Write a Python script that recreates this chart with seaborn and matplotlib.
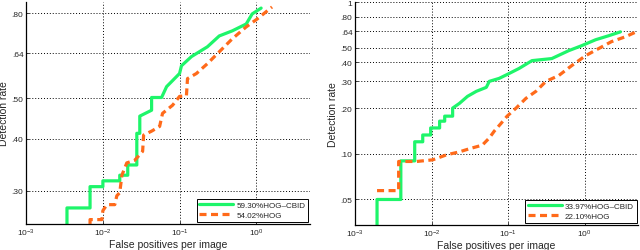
import numpy as np
import pandas as pd
import matplotlib
matplotlib.use("Agg")
import matplotlib.pyplot as plt
import seaborn as sns

# left panel
left_cbid_fppi = [0.0034, 0.0034, 0.0068, 0.0068, 0.0100, 0.0100, 0.0166, 0.0166, 0.0211, 0.0211,
                  0.0277, 0.0277, 0.0303, 0.0303, 0.0432, 0.0432, 0.0583, 0.0678, 0.0811, 0.100,
                  0.106, 0.143, 0.231, 0.330, 0.488, 0.741, 0.887, 1.16]
left_cbid_rate = [0.25, 0.273, 0.273, 0.307, 0.307, 0.317, 0.317, 0.327, 0.327, 0.346,
                  0.346, 0.412, 0.412, 0.453, 0.468, 0.502, 0.502, 0.533, 0.551, 0.573,
                  0.598, 0.629, 0.664, 0.705, 0.725, 0.753, 0.796, 0.822]
left_hog_fppi = [0.0068, 0.0068, 0.0097, 0.0100, 0.0113, 0.0143, 0.0152, 0.0166, 0.0177, 0.0205,
                 0.026, 0.033, 0.034, 0.0432, 0.055, 0.060, 0.0811, 0.100, 0.123, 0.127,
                 0.166, 0.231, 0.330, 0.488, 0.741, 1.03, 1.61]
left_hog_rate = [0.25, 0.256, 0.256, 0.269, 0.278, 0.278, 0.292, 0.297, 0.327, 0.350,
                 0.355, 0.373, 0.408, 0.417, 0.428, 0.460, 0.481, 0.505, 0.507, 0.557,
                 0.573, 0.605, 0.646, 0.694, 0.741, 0.774, 0.827]

# right panel
right_cbid_fppi = [0.00193, 0.00193, 0.00395, 0.00395, 0.0060, 0.0060, 0.00764, 0.00764, 0.0097, 0.0097,
                   0.0127, 0.0127, 0.0148, 0.0148, 0.0188, 0.0188, 0.0231, 0.0294, 0.0384, 0.0518,
                   0.0566, 0.0764, 0.097, 0.139, 0.205, 0.372, 0.619, 0.91, 1.39, 2.05, 2.94]
right_cbid_rate = [0.034, 0.050, 0.050, 0.0898, 0.0898, 0.120, 0.120, 0.133, 0.133, 0.148,
                   0.148, 0.164, 0.164, 0.177, 0.177, 0.200, 0.215, 0.239, 0.258, 0.274,
                   0.300, 0.314, 0.333, 0.365, 0.411, 0.424, 0.478, 0.515, 0.564, 0.599, 0.636]
right_hog_fppi = [0.00193, 0.0037, 0.0037, 0.00638, 0.0103, 0.0156, 0.0231, 0.0312, 0.0459, 0.0566,
                  0.0658, 0.0811, 0.097, 0.127, 0.171, 0.231, 0.312, 0.460, 0.678, 1.03,
                  1.52, 2.24, 3.41, 4.73]
right_hog_rate = [0.0572, 0.0572, 0.089, 0.089, 0.0912, 0.0984, 0.103, 0.108, 0.114, 0.127,
                  0.141, 0.159, 0.177, 0.200, 0.232, 0.258, 0.300, 0.328, 0.381, 0.443,
                  0.493, 0.548, 0.590, 0.636]

left_labels = ["59.30%HOG\u2013CBID", "54.02%HOG"]
right_labels = ["33.97%HOG\u2013CBID", "22.10%HOG"]

left_yticks = [0.30, 0.40, 0.50, 0.64, 0.80]
left_yticklabels = [".30", ".40", ".50", ".64", ".80"]
right_yticks = [0.05, 0.10, 0.20, 0.30, 0.40, 0.50, 0.64, 0.80, 1.0]
right_yticklabels = [".05", ".10", ".20", ".30", ".40", ".50", ".64", ".80", "1"]

green = "#1ef56a"
orange = "#ff6a1a"

sns.set_style("ticks")
plt.rcParams['font.family'] = ['Liberation Sans', 'DejaVu Sans']
plt.rcParams['mathtext.fontset'] = 'custom'
plt.rcParams['mathtext.rm'] = 'Liberation Sans'

fig = plt.figure(figsize=(6.4, 2.51), dpi=100)
ax1 = fig.add_axes([0.041, 0.104, 0.443, 0.884])
ax2 = fig.add_axes([0.555, 0.100, 0.442, 0.888])


def panel(ax, cx, cy, hx, hy, labels, yt, ytl, ylim):
    d1 = pd.DataFrame({"fppi": cx, "rate": cy})
    d2 = pd.DataFrame({"fppi": hx, "rate": hy})
    sns.lineplot(data=d1, x="fppi", y="rate", ax=ax, sort=False, estimator=None,
                 color=green, lw=2.3, label=labels[0])
    sns.lineplot(data=d2, x="fppi", y="rate", ax=ax, sort=False, estimator=None,
                 color=orange, lw=2.3, label=labels[1])
    ax.lines[1].set_linestyle((0, (2.2, 1.4)))
    ax.set_xscale("log")
    ax.set_yscale("log")
    ax.set_xlim(1e-3, 5)
    ax.set_ylim(*ylim)
    ax.set_xticks([1e-3, 1e-2, 1e-1, 1e0])
    ax.xaxis.set_minor_locator(matplotlib.ticker.NullLocator())
    ax.yaxis.set_minor_locator(matplotlib.ticker.NullLocator())
    ax.set_yticks(yt)
    ax.set_yticklabels(ytl)
    ax.grid(True, which="major", color="black", linestyle=(0, (1, 2)), linewidth=0.7)
    ax.tick_params(direction="in", length=2, labelsize=6, pad=2, width=0.6)
    for s in ["top", "right"]:
        ax.spines[s].set_visible(False)
    for s in ["left", "bottom"]:
        ax.spines[s].set_linewidth(0.9)
        ax.spines[s].set_color("black")
    ax.set_xlabel("False positives per image", fontsize=7.5, labelpad=1)
    ax.set_ylabel("Detection rate", fontsize=7.5, labelpad=2)
    leg = ax.legend(loc="lower right", bbox_to_anchor=(0.995, 0.01), fontsize=5.8,
                    frameon=True, fancybox=False, handlelength=4.2, borderpad=0.35,
                    labelspacing=0.25, handletextpad=0.4, borderaxespad=0)
    leg.get_frame().set_edgecolor("black")
    leg.get_frame().set_linewidth(0.7)
    leg.get_frame().set_alpha(1)


panel(ax1, left_cbid_fppi, left_cbid_rate, left_hog_fppi, left_hog_rate,
      left_labels, left_yticks, left_yticklabels, (0.25, 0.85))
panel(ax2, right_cbid_fppi, right_cbid_rate, right_hog_fppi, right_hog_rate,
      right_labels, right_yticks, right_yticklabels, (0.034, 1.0))

fig.savefig("out.png", dpi=100)
